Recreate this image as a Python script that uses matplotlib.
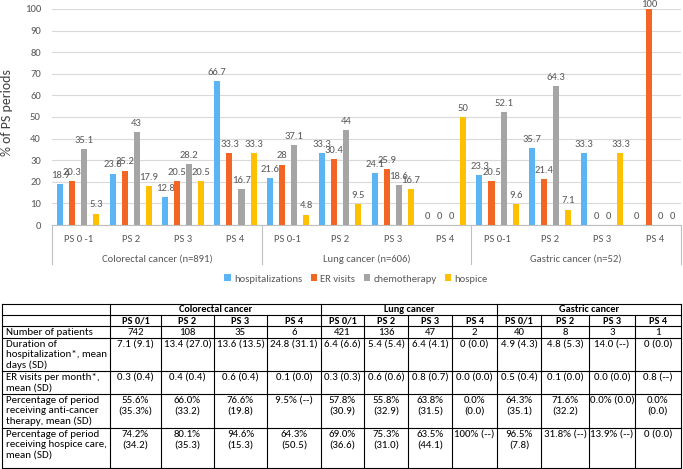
import matplotlib
matplotlib.use("Agg")
import matplotlib.pyplot as plt
from matplotlib import font_manager
from matplotlib.patches import Patch
import numpy as np

# pick a Calibri-like font if one is around
available = set(f.name for f in font_manager.fontManager.ttflist)
font = "Liberation Sans"
scale = 0.82
for cand in ["Carlito", "Liberation Sans Narrow", "Open Sans Condensed", "Roboto Condensed"]:
    if cand in available:
        font = cand
        scale = 1.0
        break
plt.rcParams['font.family'] = [font, 'DejaVu Sans']

# Bar chart data
cancers = ["Colorectal cancer (n=891)", "Lung cancer (n=606)", "Gastric cancer (n=52)"]
ps_labels = ["PS 0 -1", "PS 2", "PS 3", "PS 4",
             "PS 0-1", "PS 2", "PS 3", "PS 4",
             "PS 0-1", "PS 2", "PS 3", "PS 4"]
series_names = ["hospitalizations", "ER visits", "chemotherapy", "hospice"]
hospitalizations = [18.9, 23.8, 12.8, 66.7, 21.6, 33.3, 24.1, 0, 23.3, 35.7, 33.3, 0]
er_visits = [20.3, 25.2, 20.5, 33.3, 28, 30.4, 25.9, 0, 20.5, 21.4, 0, 100]
chemotherapy = [35.1, 43, 28.2, 16.7, 37.1, 44, 18.6, 0, 52.1, 64.3, 0, 0]
hospice = [5.3, 17.9, 20.5, 33.3, 4.8, 9.5, 16.7, 50, 9.6, 7.1, 33.3, 0]

# Table data
table_groups = ["Colorectal cancer", "Lung cancer", "Gastric cancer"]
table_ps = ["PS 0/1", "PS 2", "PS 3", "PS 4"] * 3
row_labels = ["Number of patients",
              "Duration of\nhospitalization*, mean\ndays (SD)",
              "ER visits per month*,\nmean (SD)",
              "Percentage of period\nreceiving anti-cancer\ntherapy, mean (SD)",
              "Percentage of period\nreceiving hospice care,\nmean (SD)"]
n_patients = ["742", "108", "35", "6", "421", "136", "47", "2", "40", "8", "3", "1"]
duration = ["7.1 (9.1)", "13.4 (27.0)", "13.6 (13.5)", "24.8 (31.1)", "6.4 (6.6)", "5.4 (5.4)",
            "6.4 (4.1)", "0 (0.0)", "4.9 (4.3)", "4.8 (5.3)", "14.0 (--)", "0 (0.0)"]
er_month = ["0.3 (0.4)", "0.4 (0.4)", "0.6 (0.4)", "0.1 (0.0)", "0.3 (0.3)", "0.6 (0.6)",
            "0.8 (0.7)", "0.0 (0.0)", "0.5 (0.4)", "0.1 (0.0)", "0.0 (0.0)", "0.8 (--)"]
anti_cancer = ["55.6%\n(35.3%)", "66.0%\n(33.2)", "76.6%\n(19.8)", "9.5% (--)", "57.8%\n(30.9)",
               "55.8%\n(32.9)", "63.8%\n(31.5)", "0.0%\n(0.0)", "64.3%\n(35.1)", "71.6%\n(32.2)",
               "0.0% (0.0)", "0.0%\n(0.0)"]
hospice_care = ["74.2%\n(34.2)", "80.1%\n(35.3)", "94.6%\n(15.3)", "64.3%\n(50.5)", "69.0%\n(36.6)",
                "75.3%\n(31.0)", "63.5%\n(44.1)", "100% (--)", "96.5%\n(7.8)", "31.8% (--)",
                "13.9% (--)", "0 (0.0)"]

colors = ["#5BB4F4", "#F26522", "#A5A5A5", "#FFC000"]
txt_gray = "#595959"
line_gray = "#BFBFBF"
fs_chart = 7.7 * scale
fs_tab = 7.8 * scale

W, H = 683, 469
fig = plt.figure(figsize=(W / 100, H / 100), dpi=100)

# ---- bar chart ----
ax_top, ax_bot, ax_left, ax_right = 9, 225, 52, 681
ax = fig.add_axes([ax_left / W, 1 - ax_bot / H, (ax_right - ax_left) / W, (ax_bot - ax_top) / H])
x = np.arange(len(ps_labels))
bw = 0.115
offsets = [-1.5, -0.5, 0.5, 1.5]
for vals, off, col in zip([hospitalizations, er_visits, chemotherapy, hospice], offsets, colors):
    bars = ax.bar(x + off * 0.23, vals, bw, color=col, zorder=3)
    for b, v in zip(bars, vals):
        # keep the top label inside the picture
        dy = 3 if v < 98 else 0
        ax.annotate("%g" % v, (b.get_x() + b.get_width() / 2, v), xytext=(0, dy),
                    textcoords="offset points", ha="center", va="bottom",
                    fontsize=fs_chart, color=txt_gray)

ax.set_xlim(-0.5, len(ps_labels) - 0.5)
ax.set_ylim(0, 100)
ax.set_yticks(range(0, 101, 10))
ax.grid(axis="y", color="#D9D9D9", linewidth=0.8, zorder=0)
for s in ["top", "right", "left"]:
    ax.spines[s].set_visible(False)
ax.spines["bottom"].set_color(line_gray)
ax.tick_params(axis="y", length=0, pad=8, labelsize=fs_chart, labelcolor=txt_gray)
ax.set_xticks(x)
ax.set_xticklabels(ps_labels)
ax.tick_params(axis="x", length=0, pad=7, labelsize=fs_chart, labelcolor=txt_gray)
ax.set_ylabel("% of PS periods", fontsize=10 * scale, color="#404040")
ax.yaxis.set_label_coords((13 - ax_left) / (ax_right - ax_left), 0.52)

ax_h = ax_bot - ax_top
trans = ax.get_xaxis_transform()
for k in range(len(cancers) + 1):
    xs = -0.5 + 4 * k
    ax.plot([xs, xs], [0, -39 / ax_h], transform=trans, color=line_gray, lw=0.8, clip_on=False)
for k, name in enumerate(cancers):
    ax.text(1.5 + 4 * k, -34 / ax_h, name, transform=trans, ha="center", va="center",
            fontsize=fs_chart, color=txt_gray)

handles = [Patch(facecolor=c, edgecolor="none") for c in colors]
fig.legend(handles, series_names, loc="center", bbox_to_anchor=(356 / W, 1 - 279 / H),
           ncol=4, frameon=False, fontsize=fs_chart, handlelength=0.6, handleheight=0.6,
           handletextpad=0.3, columnspacing=0.8, labelcolor=txt_gray)

# ---- table ----
tab = fig.add_axes([0, 0, 1, 1])
tab.set_xlim(0, W)
tab.set_ylim(H, 0)
tab.axis("off")

col_edges = [2, 110, 161, 214, 267, 321, 364, 408, 452, 497, 541, 589, 635, 681]
row_edges = [304, 315, 326, 338, 371, 394, 428, 468]
lw = 0.8
for y in row_edges:
    tab.plot([col_edges[0], col_edges[-1]], [y, y], color="black", lw=lw)
for i, xe in enumerate(col_edges):
    if i in (0, 1, 5, 9, 13):
        tab.plot([xe, xe], [row_edges[0], row_edges[-1]], color="black", lw=lw)
    else:
        tab.plot([xe, xe], [row_edges[1], row_edges[-1]], color="black", lw=lw)

step = 10.4
for g, name in enumerate(table_groups):
    cx = (col_edges[1 + 4 * g] + col_edges[5 + 4 * g]) / 2
    tab.text(cx, row_edges[0] + 8.5, name, ha="center", va="baseline", fontsize=7.4 * scale, fontweight="bold")
for j, lab in enumerate(table_ps):
    cx = (col_edges[1 + j] + col_edges[2 + j]) / 2
    tab.text(cx, row_edges[1] + 8.5, lab, ha="center", va="baseline", fontsize=7.4 * scale, fontweight="bold")

rows = [n_patients, duration, er_month, anti_cancer, hospice_care]
for r, (label, cells) in enumerate(zip(row_labels, rows)):
    top = row_edges[2 + r]
    for i, line in enumerate(label.split("\n")):
        tab.text(col_edges[0] + 4, top + 9 + i * step, line, ha="left", va="baseline", fontsize=fs_tab)
    for j, cell in enumerate(cells):
        cx = (col_edges[1 + j] + col_edges[2 + j]) / 2
        for i, line in enumerate(cell.split("\n")):
            tab.text(cx, top + 9 + i * step, line, ha="center", va="baseline", fontsize=fs_tab)

fig.savefig("out.png", dpi=100)
